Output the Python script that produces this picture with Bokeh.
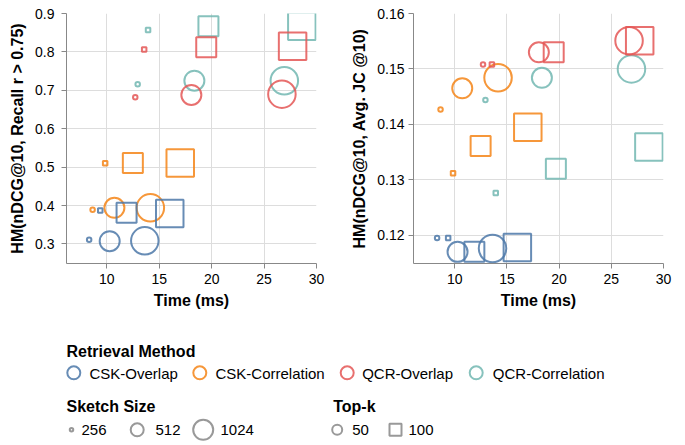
from bokeh.plotting import figure
from bokeh.models import Range1d, FixedTicker, NumeralTickFormatter, ColumnDataSource
from bokeh.layouts import column, row
from bokeh.embed import file_html
from bokeh.resources import INLINE
from bokeh.core.properties import value

# ---------------- data ----------------
methods = ["CSK-Overlap", "CSK-Correlation", "QCR-Overlap", "QCR-Correlation"]
method_colors = ["#4c78a8", "#f58518", "#e45756", "#72b7b2"]
sketch_size = [256, 256, 512, 512, 1024, 1024]
top_k = [50, 100, 50, 100, 50, 100]

time_csk_overlap = [8.31, 9.37, 10.27, 11.88, 13.62, 16.0]
time_csk_correlation = [8.64, 9.84, 10.72, 12.48, 14.15, 17.0]
time_qcr_overlap = [12.71, 13.56, 18.06, 19.48, 26.7, 27.72]
time_qcr_correlation = [12.94, 13.93, 18.35, 19.69, 26.93, 28.6]

recall_csk_overlap = [0.311, 0.387, 0.307, 0.381, 0.308, 0.379]
recall_csk_correlation = [0.389, 0.510, 0.394, 0.511, 0.394, 0.511]
recall_qcr_overlap = [0.682, 0.806, 0.688, 0.812, 0.690, 0.815]
recall_qcr_correlation = [0.716, 0.857, 0.725, 0.867, 0.725, 0.867]

jc_csk_overlap = [0.1195, 0.1195, 0.1170, 0.1170, 0.1176, 0.1178]
jc_csk_correlation = [0.1427, 0.1312, 0.1465, 0.1361, 0.1484, 0.1395]
jc_qcr_overlap = [0.1508, 0.1508, 0.1530, 0.1530, 0.1551, 0.1551]
jc_qcr_correlation = [0.1444, 0.1276, 0.1484, 0.1320, 0.1500, 0.1359]

x_ticks = [10, 15, 20, 25, 30]
recall_ticks = [0.3, 0.4, 0.5, 0.6, 0.7, 0.8, 0.9]
jc_ticks = [0.12, 0.13, 0.14, 0.15, 0.16]

sketch_legend = [256, 512, 1024]
topk_legend = [50, 100]

# ---------------- styling ----------------
FONT = "Liberation Sans"
size_px = {256: 4.5, 512: 20, 1024: 27.5}
legend_size_px = {256: 3.5, 512: 13, 1024: 20}
marker_of = {50: "circle", 100: "square"}
color_of = dict(zip(methods, method_colors))

times = {"CSK-Overlap": time_csk_overlap, "CSK-Correlation": time_csk_correlation,
         "QCR-Overlap": time_qcr_overlap, "QCR-Correlation": time_qcr_correlation}
recalls = {"CSK-Overlap": recall_csk_overlap, "CSK-Correlation": recall_csk_correlation,
           "QCR-Overlap": recall_qcr_overlap, "QCR-Correlation": recall_qcr_correlation}
jcs = {"CSK-Overlap": jc_csk_overlap, "CSK-Correlation": jc_csk_correlation,
       "QCR-Overlap": jc_qcr_overlap, "QCR-Correlation": jc_qcr_correlation}

draw_order = sorted(methods)


def make_fig(yvals, y_start, y_end, yticks, fmt, ylabel, x_start, bl, br, lab_standoff):
    p = figure(frame_width=250, frame_height=250,
               x_range=Range1d(x_start, 30), y_range=Range1d(y_start, y_end),
               output_backend="svg", toolbar_location=None,
               min_border_left=bl, min_border_right=br, min_border_top=13, min_border_bottom=60)
    p.outline_line_color = None
    p.background_fill_color = "white"
    for m in draw_order:
        src = ColumnDataSource(dict(
            x=times[m], y=yvals[m],
            size=[size_px[s] for s in sketch_size],
            marker=[marker_of[k] for k in top_k]))
        p.scatter("x", "y", source=src, marker="marker", size="size",
                  fill_color=None, line_color=color_of[m], line_width=2, line_alpha=0.85)
    p.xaxis.ticker = FixedTicker(ticks=x_ticks)
    p.yaxis.ticker = FixedTicker(ticks=yticks)
    p.yaxis.formatter = NumeralTickFormatter(format=fmt)
    p.xaxis.axis_label = "Time (ms)"
    p.yaxis.axis_label = ylabel
    for ax in (p.xaxis[0], p.yaxis[0]):
        ax.axis_line_color = "#888888"
        ax.major_tick_line_color = "#888888"
        ax.minor_tick_line_color = None
        ax.major_tick_out = 5
        ax.major_tick_in = 0
        ax.major_label_text_font = FONT
        ax.major_label_text_font_size = "14px"
        ax.major_label_text_color = "#000000"
        ax.axis_label_text_font = FONT
        ax.axis_label_text_font_size = "16px"
        ax.axis_label_text_font_style = "bold"
        ax.axis_label_text_color = "#000000"
    p.xaxis.major_label_standoff = 5
    p.xaxis.axis_label_standoff = 5
    p.yaxis.major_label_standoff = lab_standoff
    p.yaxis.axis_label_standoff = 6
    p.grid.grid_line_color = "#dddddd"
    p.grid.grid_line_width = 1
    return p


p1 = make_fig(recalls, 0.249, 0.9, recall_ticks, "0.0", "HM(nDCG@10, Recall r > 0.75)",
              6.15, 66, 20, 7)
p2 = make_fig(jcs, 0.1149, 0.16, jc_ticks, "0.00", "HM(nDCG@10, Avg. JC @10)",
              6.05, 77, 22, 4)

# ---------------- legend ----------------
LT = 323
LH = 120
lg = figure(width=685, height=LH, x_range=Range1d(0, 685), y_range=Range1d(LT + LH, LT),
            output_backend="svg", toolbar_location=None,
            min_border=0, min_border_left=0, min_border_right=0, min_border_top=0, min_border_bottom=0)
lg.axis.visible = False
lg.grid.visible = False
lg.outline_line_color = None

title_src = ColumnDataSource(dict(x=[66, 66, 332.7], y=[351, 406, 406],
                                  t=["Retrieval Method", "Sketch Size", "Top-k"]))
lg.text("x", "y", text="t", source=title_src, text_font=value(FONT), text_font_size=value("16px"),
        text_font_style="bold", text_baseline="alphabetic", text_align="left", text_color="#000000")

meth_sym_x = [73.3, 199.3, 346.7, 475.7]
meth_lab_x = [89, 215, 361.7, 492.3]
lg.scatter(meth_sym_x, [372.3] * 4, marker="circle", size=13, fill_color=None,
           line_color=[color_of[m] for m in methods], line_width=2, line_alpha=0.85)
lg.text(meth_lab_x, [372.5] * 4, text=methods, text_font=value(FONT), text_font_size=value("15px"),
        text_baseline="middle", text_align="left", text_color="#000000")

sk_sym_x = [71, 136.7, 202.7]
sk_lab_x = [81, 155, 220]
lg.scatter(sk_sym_x, [429.3] * 3, marker="circle", size=[legend_size_px[s] for s in sketch_legend],
           fill_color=None, line_color="#999999", line_width=2)
lg.text(sk_lab_x, [429.5] * 3, text=[str(s) for s in sketch_legend], text_font=value(FONT),
        text_font_size=value("15px"), text_baseline="middle", text_align="left", text_color="#000000")

tk_sym_x = [336.7, 395]
tk_lab_x = [351.7, 408]
lg.scatter(tk_sym_x, [429.3] * 2, marker=[marker_of[k] for k in topk_legend], size=[10, 12],
           fill_color=None, line_color="#999999", line_width=2)
lg.text(tk_lab_x, [429.5] * 2, text=[str(k) for k in topk_legend], text_font=value(FONT),
        text_font_size=value("15px"), text_baseline="middle", text_align="left", text_color="#000000")

layout = column(row(p1, p2), lg)
open("out.html", "w").write(file_html(layout, INLINE))
